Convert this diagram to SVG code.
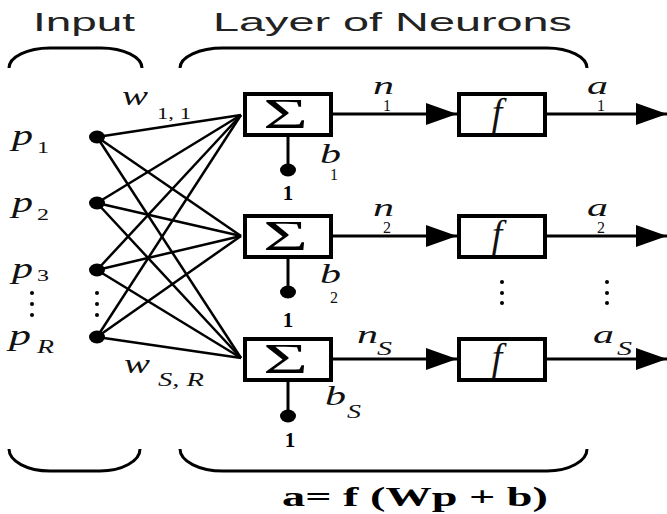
<svg xmlns="http://www.w3.org/2000/svg" width="667" height="514" viewBox="0 0 667 514">
<defs>
<marker id="ah" markerUnits="userSpaceOnUse" markerWidth="32" markerHeight="24" refX="31" refY="11" orient="auto">
<path d="M0,0 L31,11 L0,22 Z" fill="#000"/>
</marker>
</defs>
<style>
.head{font-family:"Liberation Sans",Arial,sans-serif;font-size:25px;fill:#222}
.it{font-family:"Liberation Serif","Times New Roman",serif;font-style:italic;fill:#111}
.sub{font-family:"Liberation Serif","Times New Roman",serif;font-size:16px;fill:#111}
.one{font-family:"Liberation Serif","Times New Roman",serif;font-size:21px;font-weight:bold;fill:#000}
.box{fill:#fff;stroke:#000;stroke-width:4}
.w{stroke:#000;stroke-width:2.5;fill:none}
.brk{stroke:#000;stroke-width:3;fill:none}
.arr{stroke:#000;stroke-width:3;fill:none}
.dot{fill:#000}
.sig{font-family:"Liberation Serif","Times New Roman",serif;font-size:42px;fill:#000}
</style>
<rect width="667" height="514" fill="#fff"/>

<g id="titles">
<text class="head" x="33" y="31" textLength="102" lengthAdjust="spacingAndGlyphs">Input</text>
<text class="head" x="213" y="31" textLength="359" lengthAdjust="spacingAndGlyphs">Layer of Neurons</text>
</g>

<g id="brackets">
<path class="brk" d="M9,68 A41,20 0 0 1 50,48 L101,48 A41,20 0 0 1 142,68"/>
<path class="brk" d="M180,68 A43,20 0 0 1 223,48 L547,48 A40,20 0 0 1 587,68"/>
<path class="brk" d="M9,449 A41,22 0 0 0 50,471 L100,471 A40,22 0 0 0 140,449"/>
<path class="brk" d="M180,449 A43,22 0 0 0 223,471 L547,471 A40,22 0 0 0 587,449"/>
</g>

<g id="connectors">
<line class="w" x1="97" y1="137" x2="241" y2="115"/>
<line class="w" x1="97" y1="137" x2="241" y2="236"/>
<line class="w" x1="97" y1="137" x2="241" y2="358"/>
<line class="w" x1="97" y1="203" x2="241" y2="115"/>
<line class="w" x1="97" y1="203" x2="241" y2="236"/>
<line class="w" x1="97" y1="203" x2="241" y2="358"/>
<line class="w" x1="97" y1="270" x2="241" y2="115"/>
<line class="w" x1="97" y1="270" x2="241" y2="236"/>
<line class="w" x1="97" y1="270" x2="241" y2="358"/>
<line class="w" x1="97" y1="337" x2="241" y2="115"/>
<line class="w" x1="97" y1="337" x2="241" y2="236"/>
<line class="w" x1="97" y1="337" x2="241" y2="358"/>
<line class="arr" x1="333" y1="114" x2="457" y2="114" marker-end="url(#ah)"/>
<line class="arr" x1="333" y1="236" x2="457" y2="236" marker-end="url(#ah)"/>
<line class="arr" x1="333" y1="359" x2="457" y2="359" marker-end="url(#ah)"/>
<line class="arr" x1="547" y1="114" x2="667" y2="114" marker-end="url(#ah)"/>
<line class="arr" x1="547" y1="236" x2="667" y2="236" marker-end="url(#ah)"/>
<line class="arr" x1="547" y1="359" x2="667" y2="359" marker-end="url(#ah)"/>
<line class="arr" x1="288" y1="137" x2="288" y2="170"/>
<line class="arr" x1="288" y1="259" x2="288" y2="292"/>
<line class="arr" x1="288" y1="382" x2="288" y2="416"/>
</g>

<g id="weight-labels">
<text class="it" x="122" y="105" font-size="28" textLength="26" lengthAdjust="spacingAndGlyphs">w</text>
<text class="sub" x="157" y="119" textLength="34" lengthAdjust="spacingAndGlyphs">1, 1</text>
<text class="it" x="124" y="373" font-size="28" textLength="26" lengthAdjust="spacingAndGlyphs">w</text>
<text class="it" x="158" y="386" font-size="18" textLength="46" lengthAdjust="spacingAndGlyphs">S, R</text>
</g>

<g id="input-p1">
<ellipse class="dot" cx="97" cy="137" rx="8" ry="6.5"/>
<text class="it" x="12" y="145" font-size="30" textLength="21" lengthAdjust="spacingAndGlyphs">p</text>
<text class="sub" x="37" y="153" font-size="18" textLength="12" lengthAdjust="spacingAndGlyphs">1</text>
</g>
<g id="input-p2">
<ellipse class="dot" cx="97" cy="203" rx="8" ry="6.5"/>
<text class="it" x="12" y="212" font-size="30" textLength="21" lengthAdjust="spacingAndGlyphs">p</text>
<text class="sub" x="37" y="220" font-size="18" textLength="12" lengthAdjust="spacingAndGlyphs">2</text>
</g>
<g id="input-p3">
<ellipse class="dot" cx="97" cy="270" rx="8" ry="6.5"/>
<text class="it" x="12" y="278" font-size="30" textLength="21" lengthAdjust="spacingAndGlyphs">p</text>
<text class="sub" x="37" y="281" font-size="18" textLength="12" lengthAdjust="spacingAndGlyphs">3</text>
</g>
<g id="input-dots">
<circle class="dot" cx="32" cy="293" r="2"/><circle class="dot" cx="32" cy="304" r="2"/><circle class="dot" cx="32" cy="315" r="2"/>
<circle class="dot" cx="97" cy="293" r="2"/><circle class="dot" cx="97" cy="304" r="2"/><circle class="dot" cx="97" cy="315" r="2"/>
</g>
<g id="input-pR">
<ellipse class="dot" cx="97" cy="337" rx="8" ry="6.5"/>
<text class="it" x="9" y="345" font-size="30" textLength="22" lengthAdjust="spacingAndGlyphs">p</text>
<text class="it" x="37" y="353" font-size="18" textLength="17" lengthAdjust="spacingAndGlyphs">R</text>
</g>

<g id="sum-1">
<rect class="box" x="245" y="94" width="86" height="41"/>
<text class="sig" x="263" y="128" textLength="45" lengthAdjust="spacingAndGlyphs">Σ</text>
</g>
<g id="sum-2">
<rect class="box" x="245" y="216" width="86" height="41"/>
<text class="sig" x="263" y="250" textLength="45" lengthAdjust="spacingAndGlyphs">Σ</text>
</g>
<g id="sum-S">
<rect class="box" x="245" y="339" width="86" height="41"/>
<text class="sig" x="263" y="373" textLength="45" lengthAdjust="spacingAndGlyphs">Σ</text>
</g>

<g id="bias-1">
<ellipse class="dot" cx="288" cy="170" rx="8" ry="6.5"/>
<text class="one" x="288" y="200" text-anchor="middle">1</text>
<text class="it" x="320" y="163" font-size="28" textLength="21" lengthAdjust="spacingAndGlyphs">b</text>
<text class="sub" x="330" y="180">1</text>
</g>
<g id="bias-2">
<ellipse class="dot" cx="288" cy="292" rx="8" ry="6.5"/>
<text class="one" x="288" y="327" text-anchor="middle">1</text>
<text class="it" x="320" y="283" font-size="28" textLength="21" lengthAdjust="spacingAndGlyphs">b</text>
<text class="sub" x="330" y="303">2</text>
</g>
<g id="bias-S">
<ellipse class="dot" cx="288" cy="416" rx="8" ry="6.5"/>
<text class="one" x="290" y="447" text-anchor="middle">1</text>
<text class="it" x="325" y="405" font-size="28" textLength="21" lengthAdjust="spacingAndGlyphs">b</text>
<text class="it" x="347" y="418" font-size="18" textLength="14" lengthAdjust="spacingAndGlyphs">S</text>
</g>

<g id="n-labels">
<text class="it" x="373" y="94" font-size="26" textLength="21" lengthAdjust="spacingAndGlyphs">n</text>
<text class="sub" x="383" y="111" font-size="12">1</text>
<text class="it" x="373" y="216" font-size="26" textLength="21" lengthAdjust="spacingAndGlyphs">n</text>
<text class="sub" x="383" y="233" font-size="12">2</text>
<text class="it" x="357" y="343" font-size="26" textLength="21" lengthAdjust="spacingAndGlyphs">n</text>
<text class="it" x="377" y="355" font-size="18" textLength="15" lengthAdjust="spacingAndGlyphs">S</text>
</g>

<g id="f-1">
<rect class="box" x="459" y="94" width="86" height="41"/>
<text class="it" x="497" y="125" font-size="38" text-anchor="middle">f</text>
</g>
<g id="f-2">
<rect class="box" x="459" y="216" width="86" height="41"/>
<text class="it" x="497" y="247" font-size="38" text-anchor="middle">f</text>
</g>
<g id="f-S">
<rect class="box" x="459" y="339" width="86" height="41"/>
<text class="it" x="497" y="370" font-size="38" text-anchor="middle">f</text>
</g>
<g id="mid-dots">
<circle class="dot" cx="502" cy="282" r="2"/><circle class="dot" cx="502" cy="293" r="2"/><circle class="dot" cx="502" cy="303" r="2"/>
<circle class="dot" cx="607" cy="282" r="2"/><circle class="dot" cx="607" cy="293" r="2"/><circle class="dot" cx="607" cy="303" r="2"/>
</g>

<g id="a-labels">
<text class="it" x="587" y="94" font-size="26" textLength="21" lengthAdjust="spacingAndGlyphs">a</text>
<text class="sub" x="597" y="111" font-size="12">1</text>
<text class="it" x="587" y="216" font-size="26" textLength="21" lengthAdjust="spacingAndGlyphs">a</text>
<text class="sub" x="597" y="233" font-size="12">2</text>
<text class="it" x="593" y="343" font-size="26" textLength="21" lengthAdjust="spacingAndGlyphs">a</text>
<text class="it" x="617" y="355" font-size="18" textLength="15" lengthAdjust="spacingAndGlyphs">S</text>
</g>

<g id="formula">
<text x="282" y="506" font-family="'Liberation Serif','Times New Roman',serif" font-size="27" font-weight="bold" textLength="266" lengthAdjust="spacingAndGlyphs">a= f (Wp + b)</text>
</g>
</svg>
